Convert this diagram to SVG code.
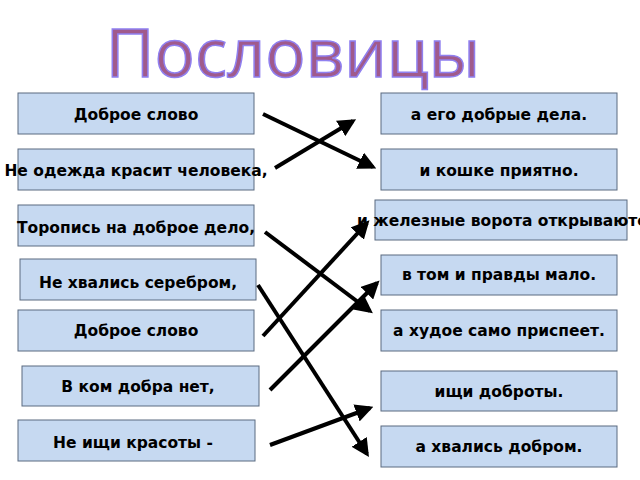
<svg xmlns="http://www.w3.org/2000/svg" width="640" height="480" viewBox="0 0 640 480">
<defs>
<style>
.b{fill:#c6d9f1;stroke:#5a6a80;stroke-width:1}
.t{font-family:"DejaVu Sans",sans-serif;font-weight:bold;font-size:15.5px;fill:#000;text-anchor:middle}
.c{stroke:#000;stroke-width:4;fill:none;marker-end:url(#ah)}
</style>
<marker id="ah" viewBox="0 0 10 10" refX="8" refY="5" markerWidth="4.5" markerHeight="4.5" orient="auto" markerUnits="strokeWidth"><path d="M0,0L10,5L0,10z" fill="#000"/></marker>
</defs>
<rect width="640" height="480" fill="#fff"/>
<text x="293" y="77" font-family="'Open Sans',sans-serif" font-size="67" fill="#a05a8c" stroke="#9080f0" stroke-width="1.5" text-anchor="middle">Пословицы</text>
<g id="l1"><rect class="b" x="18" y="93" width="236" height="41"/><text class="t" x="136" y="120">Доброе слово</text></g>
<g id="l2"><rect class="b" x="18" y="149" width="236" height="41"/><text class="t" x="136" y="176">Не одежда красит человека,</text></g>
<g id="l3"><rect class="b" x="18" y="205" width="236" height="41"/><text class="t" x="136" y="233">Торопись на доброе дело,</text></g>
<g id="l4"><rect class="b" x="20" y="259" width="236" height="41"/><text class="t" x="138" y="288">Не хвались серебром,</text></g>
<g id="l5"><rect class="b" x="18" y="310" width="236" height="41"/><text class="t" x="136" y="336">Доброе слово</text></g>
<g id="l6"><rect class="b" x="22" y="366" width="237" height="40"/><text class="t" x="138" y="392">В ком добра нет,</text></g>
<g id="l7"><rect class="b" x="18" y="420" width="237" height="41"/><text class="t" x="133" y="448">Не ищи красоты -</text></g>
<g id="r1"><rect class="b" x="381" y="93" width="236" height="41"/><text class="t" x="499" y="120">а его добрые дела.</text></g>
<g id="r2"><rect class="b" x="381" y="149" width="236" height="41"/><text class="t" x="499" y="176">и кошке приятно.</text></g>
<g id="r3"><rect class="b" x="375" y="200" width="252" height="40"/><text class="t" x="357" y="226" style="text-anchor:start">и железные ворота открываются</text></g>
<g id="r4"><rect class="b" x="381" y="255" width="236" height="40"/><text class="t" x="499" y="280">в том и правды мало.</text></g>
<g id="r5"><rect class="b" x="381" y="310" width="236" height="41"/><text class="t" x="499" y="336">а худое само приспеет.</text></g>
<g id="r6"><rect class="b" x="381" y="371" width="236" height="40"/><text class="t" x="499" y="397">ищи доброты.</text></g>
<g id="r7"><rect class="b" x="381" y="426" width="236" height="41"/><text class="t" x="499" y="452">а хвались добром.</text></g>
<g id="connectors">
<line class="c" x1="263" y1="114" x2="373" y2="167"/>
<line class="c" x1="275" y1="168" x2="353" y2="121"/>
<line class="c" x1="265" y1="232" x2="370" y2="311"/>
<line class="c" x1="263" y1="336" x2="367" y2="223"/>
<line class="c" x1="258" y1="285" x2="367" y2="454"/>
<line class="c" x1="270" y1="390" x2="377" y2="283"/>
<line class="c" x1="270" y1="445" x2="370" y2="408"/>
</g>
</svg>
